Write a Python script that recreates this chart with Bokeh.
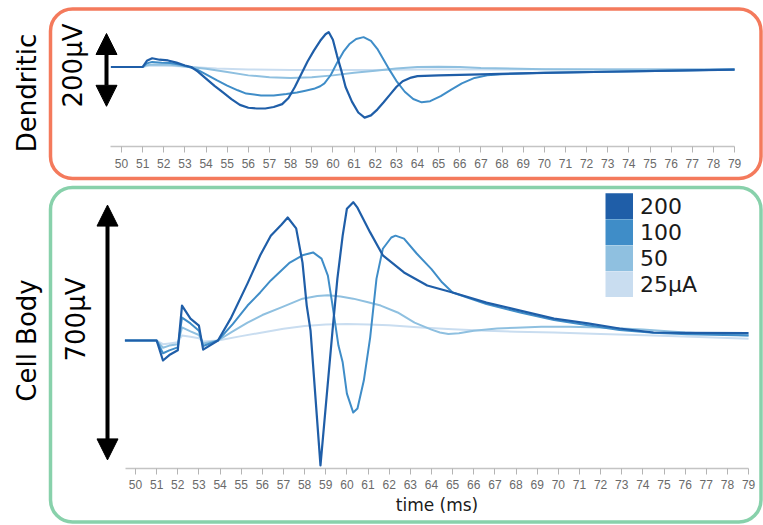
import math
from bokeh.plotting import figure
from bokeh.models import (Range1d, FixedTicker, BoxAnnotation, Arrow, NormalHead,
                          Label, Legend, LegendItem, LinearAxis)
from bokeh.embed import file_html
from bokeh.resources import INLINE

# ---------------- data ----------------
tick_values = list(range(50, 80))

# Dendritic recordings (time in ms, potential in µV)
d200_t = [49.5, 51.0, 51.2, 51.45, 51.8, 52.2, 52.6, 53.0, 53.3, 53.6, 54.0, 54.4, 54.8, 55.2, 55.6,
          56.0, 56.4, 56.8, 57.2, 57.6, 57.9, 58.2, 58.5, 58.8, 59.1, 59.4, 59.65, 59.8, 60.0, 60.2,
          60.4, 60.6, 60.9, 61.2, 61.5, 61.8, 62.1, 62.4, 62.7, 63.0, 63.3, 63.7, 64.0, 65.0, 67.0,
          70.0, 73.0, 76.0, 79.0]
d200_v = [0, 0, 17, 24, 20, 18, 12, 4, 0, -12, -32, -52, -70, -88, -104,
          -112, -114, -114, -110, -102, -85, -55, -20, 15, 45, 72, 90, 96, 75, 30,
          -10, -55, -95, -125, -139, -133, -117, -97, -76, -55, -39, -29, -25, -23, -20,
          -16, -13, -10, -7]

d100_t = [49.5, 51.0, 51.2, 51.45, 51.9, 52.3, 52.8, 53.2, 53.6, 54.0, 54.5, 55.0, 55.5, 55.9, 56.6,
          57.2, 57.8, 58.3, 58.7, 59.1, 59.4, 59.6, 59.9, 60.2, 60.5, 60.8, 61.1, 61.45, 61.8, 62.1,
          62.4, 62.7, 63.0, 63.4, 63.8, 64.2, 64.6, 65.1, 65.6, 66.1, 66.7, 67.3, 68.0, 70.0, 73.0,
          76.0, 79.0]
d100_v = [0, 0, 10, 14, 12, 11, 6, 0, -8, -20, -36, -51, -64, -73, -78,
          -78, -74, -70, -65, -60, -53, -45, -22, 12, 42, 64, 77, 82, 72, 50,
          20, -10, -38, -68, -88, -97, -94, -80, -62, -45, -30, -23, -20, -16, -13,
          -10, -7]

d50_t = [49.5, 51.0, 51.2, 51.45, 52.3, 53.2, 54.0, 55.0, 56.0, 57.0, 58.0, 59.0, 60.0, 61.0, 62.0,
         63.0, 64.0, 65.0, 66.0, 67.0, 70.0, 73.0, 76.0, 79.0]
d50_v = [0, 0, 5, 7, 6, 0, -5, -14, -23, -28, -30, -28, -23, -16, -10,
         -4, 0, 1, 0, -3, -6, -7, -7, -7]

d25_t = [49.5, 51.0, 51.2, 51.45, 52.5, 53.3, 54.5, 56.0, 58.0, 60.0, 62.0, 64.0, 67.0, 70.0, 79.0]
d25_v = [0, 0, 3, 4, 3, 0, -4, -7, -8, -8, -8, -7, -7, -6, -6]

# Cell body recordings
c200_t = [49.5, 51.0, 51.3, 51.6, 52.0, 52.2, 52.6, 53.0, 53.2, 53.9, 54.5, 55.3, 55.9, 56.4, 56.9,
          57.2, 57.6, 57.9, 58.1, 58.28, 58.75, 59.32, 59.55, 59.8, 60.0, 60.3, 60.5, 61.1, 61.7, 62.7,
          63.8, 65.0, 66.6, 68.2, 69.8, 71.4, 72.9, 74.5, 76.1, 79.0]
c200_v = [0, 0, -55, -40, -27, 96, 60, 41, -25, 0, 60, 157, 234, 288, 318,
          338, 308, 214, 96, 27, -343, 27, 170, 288, 362, 380, 365, 297, 234, 187,
          151, 132, 104, 82, 60, 47, 33, 22, 21, 20]

c100_t = [49.5, 51.0, 51.3, 51.6, 52.0, 52.2, 52.6, 53.0, 53.2, 53.9, 54.6, 55.3, 55.9, 56.4, 57.3,
          57.9, 58.4, 58.8, 59.1, 59.3, 59.6, 59.8, 60.0, 60.3, 60.5, 60.8, 61.1, 61.4, 61.7, 62.1,
          62.3, 62.7, 63.3, 64.0, 64.5, 65.0, 66.6, 68.2, 69.8, 71.4, 72.9, 74.5, 76.1, 79.0]
c100_v = [0, 0, -35, -27, -19, 63, 47, 27, -15, 0, 45, 96, 132, 165, 214,
          234, 242, 225, 178, 104, -14, -60, -146, -198, -187, -110, 8, 170, 252, 283,
          288, 280, 239, 196, 160, 132, 100, 77, 56, 42, 29, 21, 17, 14]

c50_t = [49.5, 51.0, 51.3, 51.6, 52.0, 52.2, 52.6, 53.0, 53.2, 53.9, 54.6, 55.3, 56.0, 56.9, 57.9,
         58.6, 59.1, 59.7, 60.3, 61.0, 61.6, 62.4, 63.2, 64.0, 64.4, 64.8, 65.3, 66.0, 67.1, 68.0,
         69.2, 70.5, 72.0, 74.0, 76.0, 79.0]
c50_v = [0, 0, -20, -14, -10, 36, 25, 15, -8, 0, 25, 49, 70, 91, 115,
         122, 124, 121, 115, 105, 96, 77, 49, 30, 22, 18, 20, 27, 33, 35,
         38, 38, 36, 30, 22, 14]

c25_t = [49.5, 51.0, 51.3, 51.6, 52.0, 52.2, 52.6, 53.0, 53.2, 53.9, 55.0, 56.0, 57.0, 58.0, 59.0,
         60.0, 61.0, 62.0, 63.5, 65.0, 66.6, 68.0, 69.8, 72.0, 74.5, 77.0, 79.0]
c25_v = [0, 0, -10, -8, -5, 14, 10, 6, -3, 0, 12, 22, 32, 40, 44,
         45, 44, 42, 36, 31, 27, 24, 22, 18, 14, 9, 5]

legend_labels = ["200", "100", "50", "25µA"]
series_colors = ["#1f5ea8", "#3f8dc8", "#8fc0e0", "#c9ddf0"]

dend_bar = (-108, 92)     # 200 µV scale bar
body_bar = (-328, 372)    # 700 µV scale bar

# ---------------- layout constants (pixels) ----------------
W, H = 763, 525
PX_MS = 21.14           # pixels per ms
PX_UV = 0.364           # pixels per µV
TOP_X50, TOP_BASE, TOP_AXIS = 121, 66.5, 146
BOD_X50, BOD_BASE, BOD_AXIS = 135, 340, 468

ORANGE = "#f47a5c"
GREEN = "#88d1ab"
FONT = "DejaVu Sans"


def xr_for(x50):
    return Range1d(50 - x50 / PX_MS, 50 + (W - x50) / PX_MS)


def yr_for(base):
    return Range1d(-(H - base) / PX_UV, base / PX_UV)


p = figure(width=W, height=H, x_range=xr_for(TOP_X50), y_range=yr_for(TOP_BASE),
           output_backend="svg", toolbar_location=None,
           x_axis_location=None, y_axis_location=None,
           min_border=0, min_border_left=0, min_border_right=0,
           min_border_top=0, min_border_bottom=0)
p.extra_x_ranges = {"body": xr_for(BOD_X50)}
p.extra_y_ranges = {"body": yr_for(BOD_BASE)}
p.grid.visible = False
p.outline_line_color = None


def add_axis(rname, x50, base, axis_px, standoff, label=None):
    kw = {}
    if rname:
        kw = dict(x_range_name=rname, y_range_name=rname)
    start = 50 - 11 / PX_MS if rname is None else 50 - 10 / PX_MS
    ax = LinearAxis(ticker=FixedTicker(ticks=tick_values),
                    fixed_location=(base - axis_px) / PX_UV,
                    bounds=(start, 79.0), **kw)
    ax.minor_tick_line_color = None
    ax.major_tick_in = 0
    ax.major_tick_out = 6
    ax.axis_line_color = "#c4c4c4"
    ax.axis_line_width = 1.5
    ax.major_tick_line_color = "#b4b4b4"
    ax.major_label_text_font = "Liberation Sans"
    ax.major_label_text_font_size = "12px"
    ax.major_label_text_color = "#6a6a6a"
    ax.major_label_standoff = standoff
    if label:
        ax.axis_label = label
        ax.axis_label_text_font = FONT
        ax.axis_label_text_font_size = "17px"
        ax.axis_label_text_font_style = "normal"
        ax.axis_label_text_color = "#1a1a1a"
        ax.axis_label_standoff = 3
    p.add_layout(ax, "below")
    return ax


def add_border(l, r, top_px, bottom_px, color):
    kw = dict(left=l, right=r, bottom=H - bottom_px, top=H - top_px,
              left_units="screen", right_units="screen",
              bottom_units="screen", top_units="screen",
              fill_alpha=0, fill_color=None, line_color=color,
              line_width=3.5, line_alpha=1)
    try:
        box = BoxAnnotation(border_radius=22, **kw)
    except Exception:
        box = BoxAnnotation(**kw)
    p.add_layout(box)


def add_bar(x_px, x50, bar, rname=None):
    kw = {}
    if rname:
        kw = dict(x_range_name=rname, y_range_name=rname)
    x = 50 + (x_px - x50) / PX_MS
    p.add_layout(Arrow(x_start=x, y_start=bar[0], x_end=x, y_end=bar[1],
                       start=NormalHead(size=21, fill_color="black", line_color="black"),
                       end=NormalHead(size=21, fill_color="black", line_color="black"),
                       line_width=4, line_color="black", **kw))


def add_text(x_px, y_px, text, size):
    p.add_layout(Label(x=x_px, y=H - y_px, x_units="screen", y_units="screen", text=text,
                       angle=math.pi / 2, text_align="center", text_baseline="middle",
                       text_font=FONT, text_font_size=size, text_color="black"))


# borders
add_border(50, 760.5, 8.5, 178, ORANGE)
add_border(50, 760.5, 187, 521.5, GREEN)

# axes
add_axis(None, TOP_X50, TOP_BASE, TOP_AXIS, 6)
add_axis("body", BOD_X50, BOD_BASE, BOD_AXIS, 5, "time (ms)")

# Dendritic traces
for t, v, c, w in [(d25_t, d25_v, series_colors[3], 2.0),
                   (d50_t, d50_v, series_colors[2], 2.0),
                   (d100_t, d100_v, series_colors[1], 2.0),
                   (d200_t, d200_v, series_colors[0], 2.2)]:
    p.line(t, v, line_color=c, line_width=w, line_join="round")

# Cell body traces
for t, v, c, w in [(c25_t, c25_v, series_colors[3], 2.0),
                   (c50_t, c50_v, series_colors[2], 2.0),
                   (c100_t, c100_v, series_colors[1], 2.0),
                   (c200_t, c200_v, series_colors[0], 2.2)]:
    p.line(t, v, line_color=c, line_width=w, line_join="round",
           x_range_name="body", y_range_name="body")

# scale bars and panel labels
add_bar(106, TOP_X50, dend_bar)
add_bar(107, BOD_X50, body_bar, "body")
add_text(26, 92.5, "Dendritic", "26px")
add_text(72.5, 65, "200µV", "26px")
add_text(26.5, 340, "Cell Body", "26px")
add_text(75, 319, "700µV", "26px")

# legend (colour blocks)
nan = float("nan")
items = []
for lab, c in zip(legend_labels, series_colors):
    r = p.line(x=[nan], y=[nan], line_color=c, line_width=26.5)
    items.append(LegendItem(label=lab, renderers=[r]))
legend = Legend(items=items, location=(605, H - 297), glyph_width=28, glyph_height=26,
                spacing=0, padding=0, margin=0, label_standoff=7, label_height=20,
                label_text_font=FONT, label_text_font_size="22px",
                label_text_color="#1a1a1a", border_line_color=None,
                background_fill_alpha=0)
p.add_layout(legend)

open("out.html", "w").write(file_html(p, INLINE))
